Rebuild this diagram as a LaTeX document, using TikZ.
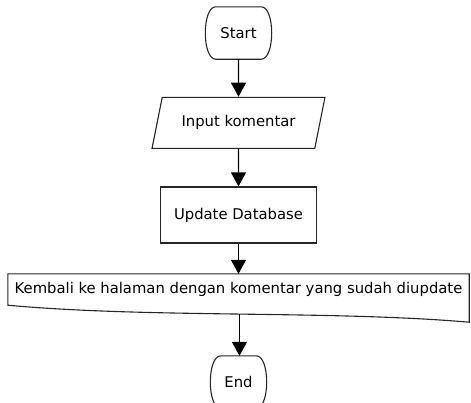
\documentclass[tikz,border=0pt]{standalone}
\usepackage{fontspec}
\setmainfont{DejaVu Sans}
\usetikzlibrary{calc,positioning,shapes,arrows.meta}

\begin{document}
\begin{tikzpicture}[x=1pt, y=-1pt, font=\fontsize{14.8}{17}\selectfont]
\tikzstyle{bdr}=[draw=black!85, line width=1.1pt]
\tikzstyle{term}=[inner sep=2pt, minimum height=52pt]
\tikzstyle{io}=[bdr, trapezium, trapezium left angle=69, trapezium right angle=111,
                        trapezium stretches=true, minimum width=173pt, minimum height=51pt]
\tikzstyle{proc}=[bdr, rectangle, minimum width=156pt, minimum height=56pt]
\tikzstyle{flow}=[draw=black, line width=1.1pt, -{Triangle[length=14pt,width=15pt]}]
\useasboundingbox (0,0) rectangle (471,402);
\node[term, minimum width=65pt] (start) at (238.5,33) {Start};
\node[io] (inp) at (238.5,122.8) {Input komentar};
\node[proc] (upd) at (238.5,215) {Update Database};
\node[inner sep=2pt, minimum width=461pt, minimum height=31pt] (doc) at (238.5,289.5)
     {Kembali ke halaman dengan komentar yang sudah diupdate};
\node[term, minimum width=55pt] (end) at (238.5,382) {End};
%terminal outlines
\foreach \n in {start,end}{\draw[bdr] ([xshift=10pt]\n.north west) -- ([xshift=-10pt]\n.north east)
    .. controls ([xshift=4pt]\n.north east) and ([xshift=4pt]\n.south east) .. ([xshift=-10pt]\n.south east)
    -- ([xshift=10pt]\n.south west)
    .. controls ([xshift=-4pt]\n.south west) and ([xshift=-4pt]\n.north west) .. cycle;}
%document outline
\draw[bdr] (doc.north west) -- (doc.north east) -- ($(doc.south east)+(0,17)$)
    .. controls ($(doc.south west)+(322,5)$) and ($(doc.south west)+(142,13)$) .. (doc.south west)
    coordinate[pos=0.5] (docb) -- cycle;
\foreach \i/\j in {start/inp,inp/upd,upd/doc}{\draw[flow] (\i) -- (\j);}
\draw[flow] (docb) -- (docb |- end.north);
\end{tikzpicture}
\end{document}
